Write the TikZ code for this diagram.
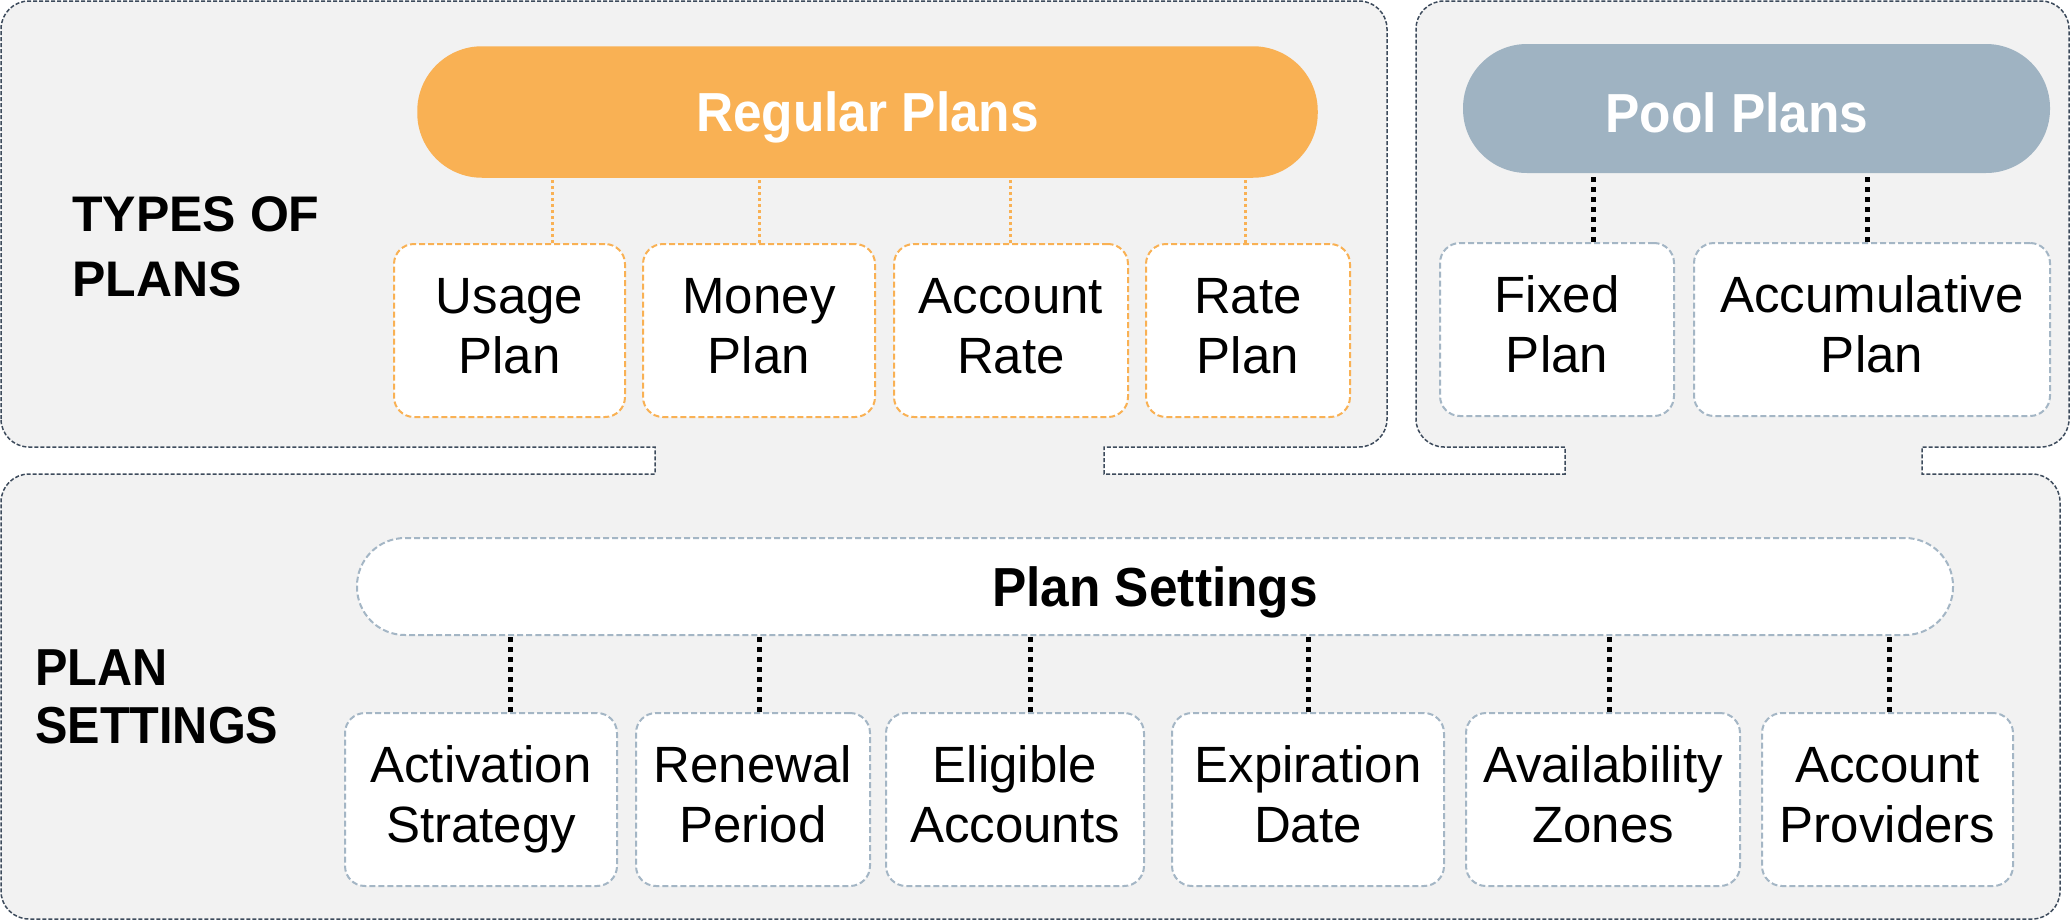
\documentclass[tikz,border=0pt]{standalone}
\usepackage{fontspec}
\setmainfont{Liberation Sans}
\newfontfamily\headfont[FakeStretch=0.935]{Liberation Sans}
\definecolor{panelgray}{HTML}{F2F2F2}
\definecolor{outlinec}{HTML}{3D4B5C}
\definecolor{orangec}{HTML}{F9B154}
\definecolor{poolc}{HTML}{9FB3C2}
\definecolor{bluegray}{HTML}{A4B6C5}
\tikzset{
  panel/.style={fill=panelgray, draw=outlinec, line width=1.5pt, dash pattern=on 4pt off 2pt},
  pill/.style={rectangle, inner sep=0pt, text depth=0pt, text=white,
    font=\headfont\bfseries\fontsize{55}{60}\selectfont},
  regpill/.style={pill, fill=orangec, draw=orangec, line width=1.5pt, rounded corners=64pt,
    minimum width=899pt, minimum height=130pt},
  poolpill/.style={pill, fill=poolc, rounded corners=64pt, text height=47.5pt,
    minimum width=587pt, minimum height=129pt},
  setpill/.style={pill, fill=white, text=black, draw=bluegray, line width=2pt,
    dash pattern=on 6pt off 3pt, rounded corners=48pt,
    minimum width=1596pt, minimum height=97pt},
  itembox/.style={rectangle, fill=white, inner sep=0pt, align=center, line width=2pt,
    dash pattern=on 6pt off 3pt, rounded corners=20pt, minimum height=173pt,
    text depth=10pt, font=\fontsize{51}{60}\selectfont},
  obox/.style={itembox, draw=orangec},
  gbox/.style={itembox, draw=bluegray},
  sidelabel/.style={inner sep=0pt, anchor=west, align=left},
  oconn/.style={draw=orangec, line width=3pt, dash pattern=on 3pt off 3pt},
  kconn/.style={draw=black, line width=5pt, dash pattern=on 5pt off 5pt},
}
\begin{document}
\begin{tikzpicture}[x=1pt, y=-1pt]
\useasboundingbox (0,0) rectangle (2071,921);
\fill[white] (0,0) rectangle (2071,921);
% composite panel outline
\path[panel] (1,419) -- (1,29) arc[start angle=180, end angle=90, radius=28pt]
  -- (1359,1) arc[start angle=90, end angle=0, radius=28pt]
  -- (1387,419) arc[start angle=0, end angle=-90, radius=28pt]
  -- (1104,447) -- (1104,474) -- (1565,474) -- (1565,447)
  -- (1444,447) arc[start angle=270, end angle=180, radius=28pt]
  -- (1416,29) arc[start angle=180, end angle=90, radius=28pt]
  -- (2041,1) arc[start angle=90, end angle=0, radius=28pt]
  -- (2069,419) arc[start angle=0, end angle=-90, radius=28pt]
  -- (1922,447) -- (1922,474) -- (2032,474) arc[start angle=90, end angle=0, radius=28pt]
  -- (2060,891) arc[start angle=0, end angle=-90, radius=28pt]
  -- (29,919) arc[start angle=270, end angle=180, radius=28pt]
  -- (1,502) arc[start angle=180, end angle=90, radius=28pt]
  -- (655,474) -- (655,447) -- (29,447) arc[start angle=270, end angle=180, radius=28pt]
  -- cycle;

% side labels
\node[sidelabel, font=\bfseries\fontsize{50}{65}\selectfont] (typeslbl) at (72,247) {TYPES OF\\PLANS};
\node[sidelabel, font=\headfont\bfseries\fontsize{52}{58}\selectfont] (settlbl) at (35,697) {PLAN\\SETTINGS};

% headers
\node[regpill] (regular) at (867.5,112) {Regular Plans};
\node[poolpill] (pool) at (1756.5,108.5) {Pool Plans\kern39pt};
\node[setpill] (settings) at (1155,586.5) {Plan Settings};

% regular plan boxes
\node[obox, minimum width=231pt] (usage) at (509.5,330.5) {Usage\\Plan};
\node[obox, minimum width=232pt] (money) at (759,330.5) {Money\\Plan};
\node[obox, minimum width=234pt] (acctrate) at (1011,330.5) {Account\\Rate};
\node[obox, minimum width=204pt] (rateplan) at (1248,330.5) {Rate\\Plan};

% pool plan boxes
\node[gbox, minimum width=234pt] (fixed) at (1557,329.5) {Fixed\\Plan};
\node[gbox, minimum width=356pt] (accum) at (1872,329.5) {Accumulative\\Plan};

% settings boxes
\node[gbox, minimum width=272pt] (activation) at (481,799.5) {Activation\\Strategy};
\node[gbox, minimum width=234pt] (renewal) at (753,799.5) {Renewal\\Period};
\node[gbox, minimum width=258pt] (eligible) at (1015,799.5) {Eligible\\Accounts};
\node[gbox, minimum width=272pt] (expiration) at (1308,799.5) {Expiration\\Date};
\node[gbox, minimum width=274pt] (availability) at (1603,799.5) {Availability\\Zones};
\node[gbox, minimum width=251pt] (providers) at (1887.5,799.5) {Account\\Providers};

% connectors: regular plans
\draw[oconn] ([xshift=42.5pt]usage.north) -- ([xshift=42.5pt]usage.north |- regular.south);
\draw[oconn] (money.north) -- (money.north |- regular.south);
\draw[oconn] ([xshift=-1pt]acctrate.north) -- ([xshift=-1pt]acctrate.north |- regular.south);
\draw[oconn] ([xshift=-3pt]rateplan.north) -- ([xshift=-3pt]rateplan.north |- regular.south);

% connectors: pool plans
\draw[kconn] ([xshift=36pt]fixed.north) -- ([xshift=36pt]fixed.north |- pool.south);
\draw[kconn] ([xshift=-5pt]accum.north) -- ([xshift=-5pt]accum.north |- pool.south);

% connectors: plan settings
\draw[kconn] ([xshift=29pt]activation.north) -- ([xshift=29pt]activation.north |- settings.south);
\draw[kconn] ([xshift=6pt]renewal.north) -- ([xshift=6pt]renewal.north |- settings.south);
\draw[kconn] ([xshift=15pt]eligible.north) -- ([xshift=15pt]eligible.north |- settings.south);
\draw[kconn] (expiration.north) -- (expiration.north |- settings.south);
\draw[kconn] ([xshift=6pt]availability.north) -- ([xshift=6pt]availability.north |- settings.south);
\draw[kconn] ([xshift=1.5pt]providers.north) -- ([xshift=1.5pt]providers.north |- settings.south);
\end{tikzpicture}
\end{document}
